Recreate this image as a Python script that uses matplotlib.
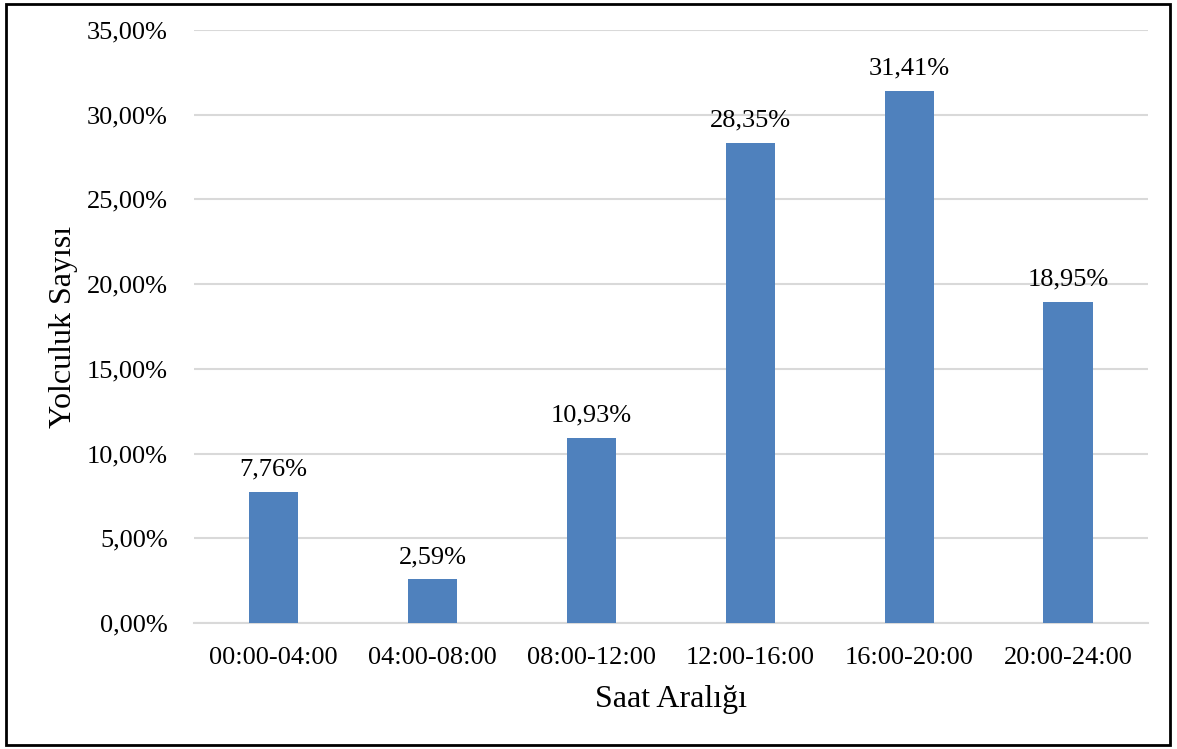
import numpy as np
import matplotlib.pyplot as plt
from matplotlib.patches import Rectangle
from matplotlib.ticker import FuncFormatter, MultipleLocator

plt.rcParams['font.family'] = ['Liberation Serif', 'DejaVu Serif']

hours = ['00:00-04:00', '04:00-08:00', '08:00-12:00', '12:00-16:00', '16:00-20:00', '20:00-24:00']
shares = [7.76, 2.59, 10.93, 28.35, 31.41, 18.95]

fig = plt.figure(figsize=(11.77, 7.49), dpi=100)
ax = fig.add_axes([0.165, 0.168, 0.81, 0.792])

x = np.arange(len(hours))
ax.bar(x, shares, width=0.31, color='#4F81BD', zorder=3)

for xi, v in zip(x, shares):
    ax.annotate(f'{v:.2f}%'.replace('.', ','), (xi, v), xytext=(0, 8),
                textcoords='offset points', ha='center', va='bottom', fontsize=19)

ax.set_xlim(-0.5, len(hours) - 0.5)
ax.set_ylim(0, 35)
ax.yaxis.set_major_locator(MultipleLocator(5))
ax.yaxis.set_major_formatter(FuncFormatter(lambda v, p: f'{v:.2f}%'.replace('.', ',')))
ax.set_xticks(x)
ax.set_xticklabels(hours)
ax.tick_params(axis='both', length=0, labelsize=19)
ax.tick_params(axis='y', pad=19)
ax.tick_params(axis='x', pad=17)

ax.grid(axis='y', color='#D9D9D9', linewidth=1.5, zorder=0)
for s in ['left', 'right', 'top']:
    ax.spines[s].set_visible(False)
ax.spines['bottom'].set_color('#D9D9D9')
ax.spines['bottom'].set_linewidth(1.5)

ax.set_xlabel('Saat Aralığı', fontsize=23, labelpad=12)
ax.set_ylabel('Yolculuk Sayısı', fontsize=23, labelpad=6)

# outer frame
fig.add_artist(Rectangle((0.005, 0.006), 0.989, 0.988, transform=fig.transFigure,
                         fill=False, edgecolor='black', linewidth=2))

fig.savefig('out.png', dpi=100)
